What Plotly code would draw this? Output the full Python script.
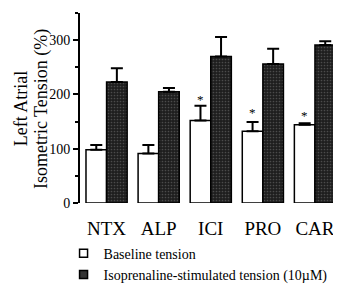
import plotly.graph_objects as go

categories = ["NTX", "ALP", "ICI", "PRO", "CAR"]
baseline = [98, 91, 152, 132, 144]
baseline_err = [9, 16, 27, 17, 3]
iso = [223, 205, 270, 256, 291]
iso_err = [25, 7, 36, 28, 7]
asterisk_y = [None, None, 196, 173, 167]
y_ticks = [0, 100, 200, 300]

FONT = "Liberation Serif, Times New Roman, serif"

fig = go.Figure()
fig.add_trace(go.Bar(
    x=categories, y=baseline, name="Baseline tension", showlegend=False,
    marker=dict(color="white", line=dict(color="black", width=1.5)),
    error_y=dict(type="data", symmetric=False, array=baseline_err,
                 arrayminus=[0]*5, color="black", thickness=2, width=6),
))
fig.add_trace(go.Bar(
    x=categories, y=iso, name="Isoprenaline-stimulated tension (10µM)", showlegend=False,
    marker=dict(color="#1e1e1e", line=dict(color="black", width=1.5),
                pattern=dict(shape=".", fgcolor="#777777", size=3, solidity=0.25)),
    error_y=dict(type="data", symmetric=False, array=iso_err,
                 arrayminus=[0]*5, color="black", thickness=2, width=6),
))
# legend proxies
fig.add_trace(go.Scatter(x=[None], y=[None], mode="markers", name="Baseline tension",
                         marker=dict(symbol="square", size=8, color="white",
                                     line=dict(color="black", width=1.5))))
fig.add_trace(go.Scatter(x=[None], y=[None], mode="markers",
                         name="Isoprenaline-stimulated tension (10µM)",
                         marker=dict(symbol="square", size=8, color="#333333",
                                     line=dict(color="black", width=1.5))))

annotations = []
for c, ay in zip(categories, asterisk_y):
    if ay is not None:
        annotations.append(dict(x=c, y=ay, xref="x", yref="y", text="*", showarrow=False,
                                xshift=-10, yshift=-3, font=dict(family=FONT, size=13, color="#000000")))
annotations.append(dict(x=-0.225, y=0.495, xref="paper", yref="paper", text="Left Atrial",
                        textangle=-90, showarrow=False, xanchor="center", yanchor="middle",
                        font=dict(family=FONT, size=18, color="black")))
annotations.append(dict(x=-0.145, y=0.495, xref="paper", yref="paper", text="Isometric Tension (%)",
                        textangle=-90, showarrow=False, xanchor="center", yanchor="middle",
                        font=dict(family=FONT, size=18, color="black")))

fig.update_layout(
    width=341, height=288,
    margin=dict(l=72, r=8, t=5, b=81),
    paper_bgcolor="white", plot_bgcolor="white",
    barmode="group", bargap=0.21, bargroupgap=0,
    font=dict(family=FONT, color="black"),
    showlegend=True,
    legend=dict(x=-0.063, y=-0.183, xanchor="left", yanchor="top",
                font=dict(family=FONT, size=14, color="black"),
                bgcolor="rgba(0,0,0,0)", tracegroupgap=0, itemwidth=30),
    annotations=annotations,
)
fig.update_xaxes(showline=False, showgrid=False, zeroline=False,
                 ticks="outside", ticklen=8, tickcolor="rgba(0,0,0,0)",
                 tickfont=dict(family=FONT, size=19, color="black"),
                 range=[-0.51, 4.5])
fig.update_yaxes(range=[0, 350], tickvals=y_ticks, showgrid=False, zeroline=False,
                 showline=True, linecolor="black", linewidth=2,
                 ticks="outside", ticklen=5, tickwidth=2, tickcolor="black",
                 tickfont=dict(family=FONT, size=14, color="black"),
                 minor=dict(dtick=50, tick0=0, ticks="outside", ticklen=3, tickwidth=1.5,
                            tickcolor="black", showgrid=False))

fig.write_html("out.html")
